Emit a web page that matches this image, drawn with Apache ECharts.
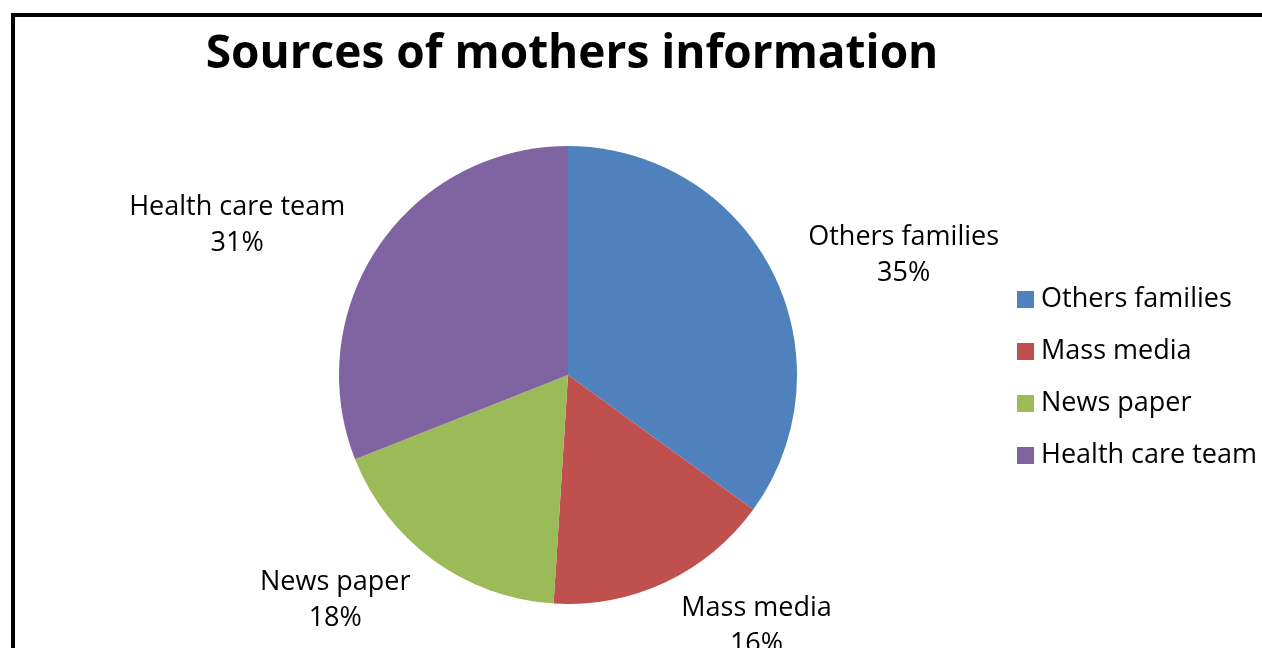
<!DOCTYPE html>
<html>
<head>
<meta charset="utf-8">
<script src="https://cdn.jsdelivr.net/npm/echarts@6/dist/echarts.min.js"></script>
<style>
  html, body { margin: 0; padding: 0; background: #fff; }
  #chart { width: 1262px; height: 648px; }
</style>
</head>
<body>
<div id="chart"></div>
<script>
const categories = ['Others families', 'Mass media', 'News paper', 'Health care team'];
const shares = [35, 16, 18, 31];
const colors = ['#4F81BD', '#C0504D', '#9BBB59', '#8064A2'];

const chart = echarts.init(document.getElementById('chart'));
const R = 229;
const font = 'Open Sans';

chart.setOption({
  animation: false,
  color: colors,
  title: {
    text: 'Sources of mothers information',
    left: 567,
    textAlign: 'center',
    top: 27,
    textStyle: { fontFamily: font, fontWeight: 'bold', fontSize: 46, color: '#000' }
  },
  legend: {
    orient: 'vertical',
    left: 1017,
    top: 286,
    padding: 0,
    itemWidth: 17,
    itemHeight: 17,
    itemGap: 25,
    icon: 'rect',
    textStyle: { fontFamily: font, fontSize: 27, color: '#000', padding: [0, 0, 0, 2] },
    data: categories
  },
  graphic: [{
    type: 'rect',
    silent: true,
    shape: { x: 13, y: 15, width: 1300, height: 700 },
    style: { fill: 'none', stroke: '#000', lineWidth: 4 }
  }],
  series: [{
    type: 'pie',
    center: [568, 375],
    radius: R,
    startAngle: 90,
    clockwise: true,
    avoidLabelOverlap: false,
    data: categories.map((name, i) => ({ name, value: shares[i] })),
    itemStyle: { borderWidth: 0 },
    label: {
      show: true,
      position: 'outside',
      padding: [8, 0, 0, 0],
      formatter: '{n|{b}}\n{n|{d}%}',
      rich: {
        n: { align: 'center', fontFamily: font, fontSize: 27, lineHeight: 36, color: '#000' }
      }
    },
    labelLine: { show: false, length: 273 - R, length2: -8 },
    emphasis: { disabled: true }
  }]
});
</script>
</body>
</html>
